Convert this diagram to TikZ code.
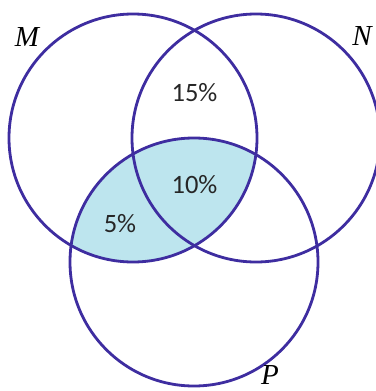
\documentclass[tikz,border=0pt]{standalone}
\usepackage{fontspec}
\setmainfont{Carlito}
\newfontfamily\letterfont{Liberation Serif}
\definecolor{ringcol}{RGB}{62,45,160}
\definecolor{shadecol}{RGB}{189,229,238}
\begin{document}
\begin{tikzpicture}[x=1pt,y=-1pt,
  ring/.style={draw=ringcol,line width=2.8pt,circle,minimum size=248pt,inner sep=0pt},
  pct/.style={font=\fontsize{26.5}{30}\selectfont,text=black!85,inner sep=0pt},
  setname/.style={font=\fontsize{29}{32}\selectfont\letterfont\itshape,inner sep=0pt}]
\useasboundingbox (0,0) rectangle (375,391);
\begin{scope}
  \clip (133,138) circle (124);
  \fill[shadecol] (194,262) circle (124);
\end{scope}
\node[ring] (M) at (133,138) {};
\node[ring] (N) at (256,138) {};
\node[ring] (P) at (194,262) {};
\node[pct] (t15) at (194.5,93) {15\%};
\node[pct] (t10) at (194.5,185) {10\%};
\node[pct] (t5) at (120,224) {5\%};
\node[setname] (lM) at (27,37) {M};
\node[setname] (lN) at (362,36) {N};
\node[setname] (lP) at (270,375) {P};
\end{tikzpicture}
\end{document}
